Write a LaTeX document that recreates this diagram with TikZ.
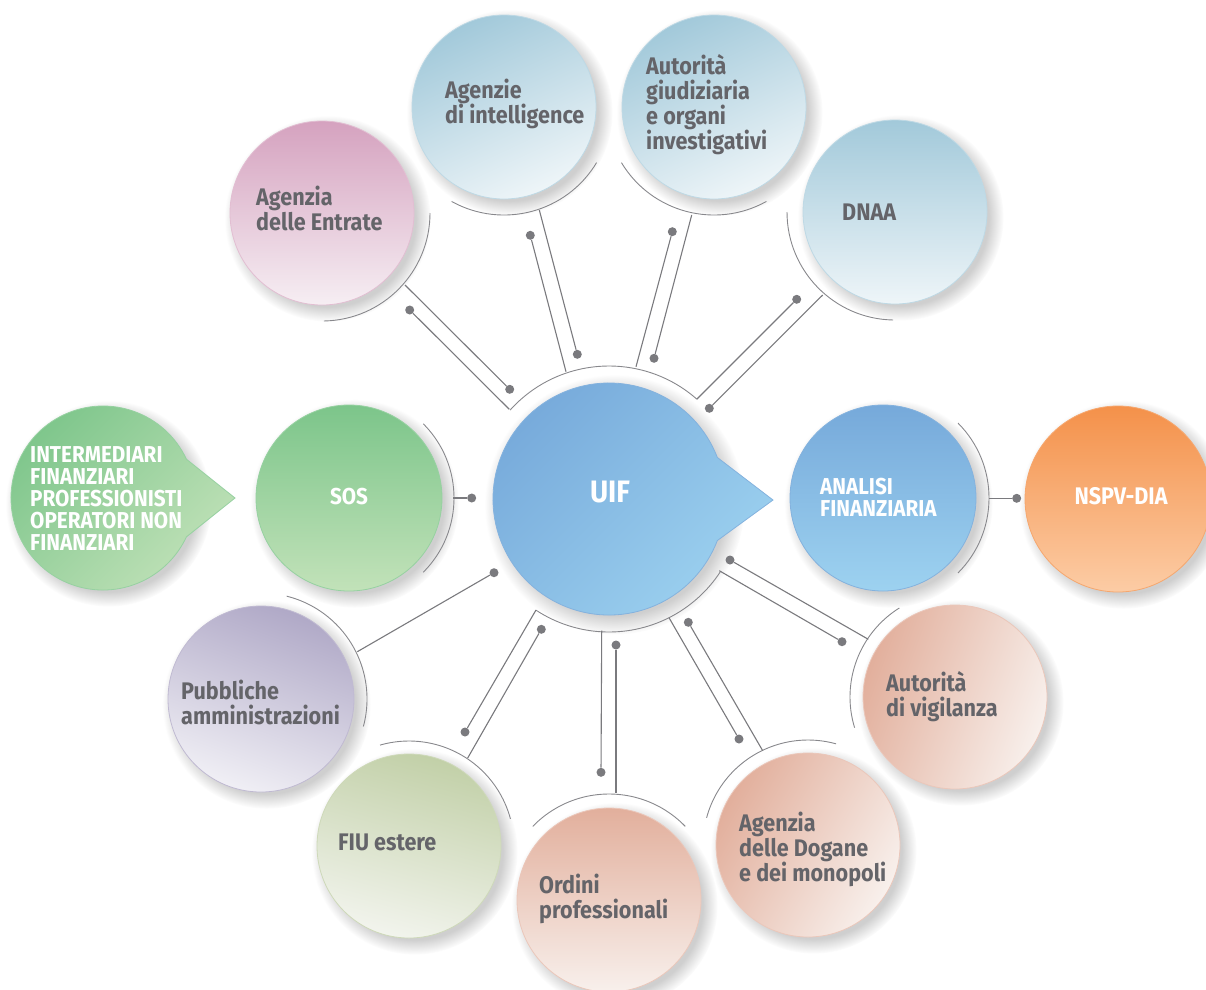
\documentclass[tikz,border=0pt]{standalone}
\usepackage{fontspec}
\newfontfamily\lblfont{Fira Sans}[FakeStretch=0.9]
\usetikzlibrary{shadows,fadings}

\definecolor{txtgray}{HTML}{646469}
\definecolor{wiregray}{HTML}{7A7A7E}
\definecolor{rimgray}{HTML}{88888C}
\definecolor{entA}{HTML}{D5A2BF}\definecolor{entB}{HTML}{F6EEF3}
\definecolor{skyA}{HTML}{A2C9DA}\definecolor{skyB}{HTML}{EEF5F8}
\definecolor{grnA}{HTML}{7CC58A}\definecolor{grnB}{HTML}{C2E2B9}
\definecolor{bluA}{HTML}{76A9DA}\definecolor{bluB}{HTML}{9DD2F0}
\definecolor{orgA}{HTML}{F4914A}\definecolor{orgB}{HTML}{FCCCA5}
\definecolor{lavA}{HTML}{B0A9C7}\definecolor{lavB}{HTML}{F0EFF5}
\definecolor{oliA}{HTML}{C2D0A8}\definecolor{oliB}{HTML}{F2F4ED}
\definecolor{pchA}{HTML}{E2AF9C}\definecolor{pchB}{HTML}{F8F0EC}

\begin{document}
\begin{tikzpicture}[x=1pt,y=1pt,
  softshadow/.style={circular drop shadow={shadow xshift=5pt,shadow yshift=-5pt,shadow scale=1.12,opacity=.38}},
  disc/.style={circle,minimum size=184pt,inner sep=0pt,shading angle=45,line width=.8pt,softshadow},
  rim/.style={draw=rimgray,line width=.9pt},
  wire/.style={draw=wiregray,line width=1.1pt},
  dot/.style={circle,fill=wiregray,inner sep=0pt,minimum size=9pt},
  lbl/.style={font=\lblfont\bfseries\fontsize{24}{25}\selectfont,text=txtgray,align=left,anchor=west,inner sep=0pt},
  wlbl/.style={font=\lblfont\bfseries\fontsize{23}{22}\selectfont,text=white,align=left,inner sep=0pt}]
\useasboundingbox (0,0) rectangle (1206,-989);
\clip (0,0) rectangle (1206,-989);

% the circles
\node[disc,top color=entA,bottom color=entB,draw=entA!70!white] (entrate) at (322,-213) {};
\node[disc,top color=skyA,bottom color=skyB,draw=skyA!70!white,shading angle=25] (intel) at (504,-107) {};
\node[disc,top color=skyA,bottom color=skyB,draw=skyA!70!white,shading angle=25] (giudiz) at (714,-107) {};
\node[disc,top color=skyA,bottom color=skyB,draw=skyA!70!white,shading angle=0] (dnaa) at (895,-212) {};
\node[disc,top color=grnA,bottom color=grnB,draw=grnA!80!white,minimum size=186pt] (sos) at (349,-498) {};
\node[disc,top color=bluA,bottom color=bluB,draw=bluA!90!white,minimum size=186pt] (analisi) at (883,-498) {};
\node[disc,top color=orgA,bottom color=orgB,draw=orgA!80!white,minimum size=186pt] (nspv) at (1118,-499) {};
\node[disc,top color=lavA,bottom color=lavB,draw=lavA!80!white,shading angle=-20,minimum size=186pt] (pubbl) at (261,-699) {};
\node[disc,top color=oliA,bottom color=oliB,draw=oliA!80!white,shading angle=-15] (fiu) at (409,-846) {};
\node[disc,top color=pchA,bottom color=pchB,draw=pchA!70!white] (ordini) at (609,-900) {};
\node[disc,top color=pchA,bottom color=pchB,draw=pchA!70!white,shading angle=60] (dogane) at (808,-845) {};
\node[disc,top color=pchA,bottom color=pchB,draw=pchA!70!white,shading angle=70] (vigil) at (955,-697) {};

% speech bubbles
\coordinate (interm) at (103,-498);
\coordinate (uif) at (609,-499);
\path[softshadow] (interm) circle[radius=92];
\shade[top color=grnA,bottom color=grnB,shading angle=45,draw=grnA!80!white,line width=.8pt]
  (interm) ++(25:92) arc[start angle=25,end angle=335,radius=92] -- (235,-498) -- cycle;
\path[softshadow] (uif) circle[radius=116];
\shade[top color=bluA,bottom color=bluB,shading angle=45,draw=bluA!90!white,line width=.8pt]
  (uif) ++(21:116) arc[start angle=21,end angle=339,radius=116] -- (773,-500) -- cycle;

% rims
\draw[rim] (uif) ++(48.7:133) arc[start angle=48.7,end angle=138,radius=133];
\draw[rim] (uif) ++(-123.3:133) arc[start angle=-123.3,end angle=-33,radius=133];
\draw[rim] (entrate) ++(-89:108) arc[start angle=-89,end angle=0,radius=108];
\draw[rim] (intel) ++(-119:108) arc[start angle=-119,end angle=-31,radius=108];
\draw[rim] (giudiz) ++(-149:108) arc[start angle=-149,end angle=-61,radius=108];
\draw[rim] (dnaa) ++(-180:108) arc[start angle=-180,end angle=-91,radius=108];
\draw[rim] (sos) ++(-45:105) arc[start angle=-45,end angle=45,radius=105];
\draw[rim] (analisi) ++(-45:106) arc[start angle=-45,end angle=45,radius=106];
\draw[rim] (pubbl) ++(-15:106) arc[start angle=-15,end angle=76,radius=106];
\draw[rim] (fiu) ++(15:105) arc[start angle=15,end angle=106,radius=105];
\draw[rim] (ordini) ++(44:106) arc[start angle=44,end angle=136,radius=106];
\draw[rim] (dogane) ++(74.5:105) arc[start angle=74.5,end angle=165,radius=105];
\draw[rim] (vigil) ++(122:105) arc[start angle=122,end angle=197,radius=105];

% wire ends on the rims
\foreach \n/\x/\y in {ea/405/-285, ua1/509.3/-409.3, ia/539.3/-210, ua2/566/-371.7,
    ga/691.7/-215, ua3/636/-366.7, na/822.7/-295, ua4/696.7/-399.3,
    va/868.3/-639.3, ua5/719.3/-570.7, da/762.7/-750.7, ua6/669/-617.7,
    oa/616/-793.3, ua7/601.7/-630.7, fa/467.7/-758, ua8/536/-610,
    pa/357.3/-651.7, sa/453.3/-498, aa/989.3/-498.3}
  \coordinate (\n) at (\x,\y);
% dots
\foreach \n/\x/\y in {ed1/409.7/-310, ed2/509.7/-389.3, id1/530.3/-235.3, id2/577.3/-354.3,
    gd1/672.3/-231.7, gd2/654/-358.3, nd1/796.7/-299.3, nd2/709.3/-408.3,
    vd1/730/-560, vd2/842/-641.7, dd1/688.3/-622.3, dd2/739/-739,
    od1/616/-645, od2/601/-772.3, fd1/541.3/-629.3, fd2/465/-732,
    pd/494/-572.7, sd/471.7/-498, ad/1016.7/-498.3}
  \node[dot] (\n) at (\x,\y) {};
% wires
\foreach \a/\b in {ea/ed2, ed1/ua1, ia/id2, id1/ua2, ga/gd2, gd1/ua3, na/nd2, nd1/ua4,
    vd1/va, ua5/vd2, dd1/da, ua6/dd2, ua7/od2, od1/oa, ua8/fd2, fd1/fa,
    pd/pa, sa/sd, aa/ad}
  \draw[wire] (\a) -- (\b);

% labels
\node[lbl] (entrate-t) at (256,-208) {Agenzia\\delle Entrate};
\node[lbl] (intel-t) at (445,-104) {Agenzie\\di intelligence};
\node[lbl] (giudiz-t) at (646,-105) {Autorità\\giudiziaria\\e organi\\investigativi};
\node[lbl] (dnaa-t) at (842,-212) {DNAA};
\node[lbl] (pubbl-t) at (181,-702) {Pubbliche\\amministrazioni};
\node[lbl] (fiu-t) at (338,-842) {FIU estere};
\node[lbl] (ordini-t) at (539,-899) {Ordini\\professionali};
\node[lbl] (dogane-t) at (739,-849) {Agenzia\\delle Dogane\\e dei monopoli};
\node[lbl] (vigil-t) at (886,-697) {Autorità\\di vigilanza};
\node[wlbl,anchor=west] (interm-t) at (30,-499) {INTERMEDIARI\\FINANZIARI\\PROFESSIONISTI\\OPERATORI NON\\FINANZIARI};
\node[wlbl] (sos-t) at (349,-497) {SOS};
\node[wlbl,font=\lblfont\bfseries\fontsize{31}{33}\selectfont] (uif-t) at (610,-492) {UIF};
\node[wlbl,anchor=west] (analisi-t) at (820,-497) {ANALISI\\FINANZIARIA};
\node[wlbl,font=\lblfont\bfseries\fontsize{24}{25}\selectfont] (nspv-t) at (1121,-496.5) {NSPV-DIA};
\end{tikzpicture}
\end{document}
